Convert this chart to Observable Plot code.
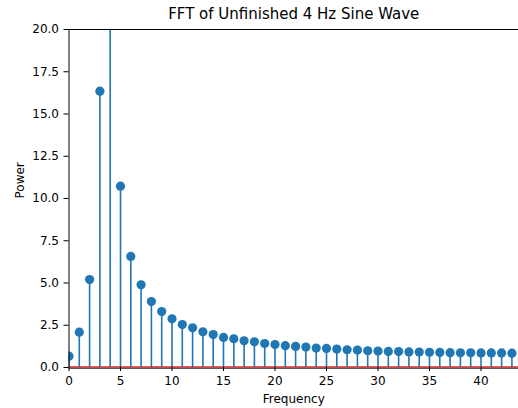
<!DOCTYPE html>
<html>
<head>
<meta charset="utf-8">
<script src="https://cdn.jsdelivr.net/npm/d3@7"></script>
<script src="https://cdn.jsdelivr.net/npm/@observablehq/plot@0.6"></script>
<style>
  html, body { margin: 0; padding: 0; background: #fff; }
  #chart svg { display: block; }
</style>
</head>
<body>
<div id="chart"></div>
<script>
const title = "FFT of Unfinished 4 Hz Sine Wave";
const xLabel = "Frequency";
const yLabel = "Power";
const frequencies = [0,1,2,3,4,5,6,7,8,9,10,11,12,13,14,15,16,17,18,19,20,21,22,23,24,25,26,27,28,29,30,31,32,33,34,35,36,37,38,39,40,41,42,43];
const power = [0.67,2.09,5.2,16.35,60,10.73,6.57,4.89,3.9,3.31,2.88,2.54,2.35,2.11,1.95,1.78,1.70,1.58,1.52,1.42,1.36,1.29,1.25,1.21,1.15,1.13,1.09,1.05,1.03,0.99,0.97,0.95,0.94,0.92,0.91,0.90,0.89,0.88,0.87,0.87,0.86,0.86,0.86,0.85];
const xTicks = [0,5,10,15,20,25,30,35,40];
const yTicks = [0,2.5,5,7.5,10,12.5,15,17.5,20];

const data = frequencies.map((f, i) => ({f, p: power[i]}));
const blue = "#1f77b4";
const red = "#d62728";

const W = 518, H = 408;
const mL = 68.5, mR = 0, mT = 29, mB = 41;

const plot = Plot.plot({
  width: W,
  height: H,
  marginLeft: mL,
  marginRight: mR,
  marginTop: mT,
  marginBottom: mB,
  style: {fontFamily: "DejaVu Sans", fontSize: "12px", color: "#000", background: "#fff"},
  x: {domain: [0, 43.64], label: null},
  y: {domain: [0, 20], label: null},
  marks: [
    Plot.ruleX(data, {x: "f", y1: 0, y2: "p", stroke: blue, strokeWidth: 1.6, clip: true}),
    Plot.dot(data, {x: "f", y: "p", r: 4.6, fill: blue, stroke: "none", clip: true}),
    Plot.ruleY([0], {stroke: red, strokeWidth: 1.6, dy: -0.5}),
    Plot.ruleY([0], {stroke: "#000", strokeWidth: 1, dy: 0.8, strokeOpacity: 0.8}),
    Plot.ruleX([0], {stroke: "#000", strokeWidth: 1}),
    Plot.ruleY([20], {stroke: "#000", strokeWidth: 1}),
    Plot.axisX({ticks: xTicks, tickSize: 4, tickPadding: 5, fontSize: 12, label: null, stroke: "#000"}),
    Plot.axisY({ticks: yTicks, tickSize: 5, tickPadding: 5, fontSize: 12, label: null, tickFormat: d3.format(".1f")}),
    Plot.text([title], {frameAnchor: "top", dy: -21, text: d => d, fontSize: 15, fill: "#000", lineAnchor: "top"}),
    Plot.text([xLabel], {frameAnchor: "bottom", dy: 27, text: d => d, fontSize: 12, fill: "#000", lineAnchor: "top"}),
    Plot.text([yLabel], {frameAnchor: "left", dx: -49, text: d => d, fontSize: 12, fill: "#000", rotate: -90})
  ]
});
document.getElementById("chart").appendChild(plot);
</script>
</body>
</html>
